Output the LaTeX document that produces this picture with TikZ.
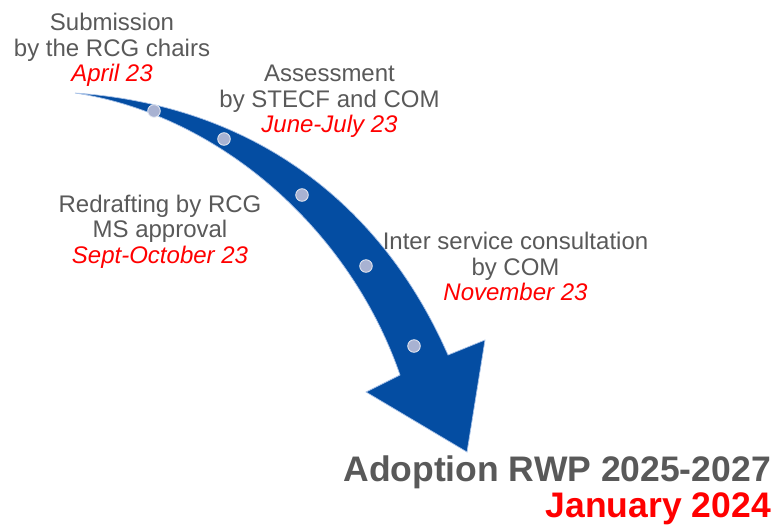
\documentclass[tikz,border=0pt]{standalone}
\usepackage{fontspec}
\setmainfont{Liberation Sans}
\definecolor{arrowblue}{RGB}{4,77,162}
\definecolor{arrowedge}{RGB}{170,195,232}
\definecolor{dotgray}{RGB}{168,178,210}
\definecolor{textgray}{RGB}{89,89,89}
\definecolor{datered}{RGB}{255,0,0}
\begin{document}
\begin{tikzpicture}[x=1pt,y=-1pt,
	stage/.style={align=center,inner sep=0pt,text=textgray,font=\fontsize{24}{25.5}\selectfont},
	final/.style={anchor=base east,inner sep=0pt,font=\bfseries\fontsize{35.5}{35.5}\selectfont}]
	\useasboundingbox (0,0) rectangle (775,525);
	\filldraw[fill=arrowblue,draw=arrowedge,line width=.7pt,line join=miter]
	(75,93) ..controls (250,105) and (380,200)..(448,355)
	--(485,340)--(467,452)--(366,392)--(400,375)
	..controls (350,230) and (220,115)..(75,93)--cycle;
	\foreach \p in {(154,111),(224,139),(302,195),(366,266),(414,346)}
	\filldraw[fill=dotgray,draw=white!75!dotgray,line width=.8pt] \p circle (6.3);
	\node[stage] (submission) at (112,50) {Submission\\by the RCG chairs\\\textcolor{datered}{\itshape April 23}};
	\node[stage] (assessment) at (329.5,101.5) {Assessment\\by STECF and COM\\\textcolor{datered}{\itshape June-July 23}};
	\node[stage] (redrafting) at (160,231.5) {Redrafting by RCG\\MS approval\\\textcolor{datered}{\itshape Sept-October 23}};
	\node[stage] (consultation) at (515.5,266.5) {Inter service consultation\\by COM\\\textcolor{datered}{\itshape November 23}};
	\node[final,text=textgray] (adoption) at (771,481) {Adoption RWP 2025-2027};
	\node[final,text=datered] (january) at (771,517) {January 2024};
\end{tikzpicture}
\end{document}
